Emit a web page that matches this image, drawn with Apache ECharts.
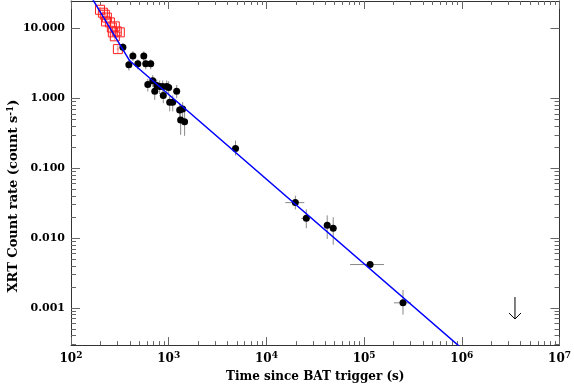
<!DOCTYPE html>
<html>
<head>
<meta charset="utf-8">
<script src="https://cdn.jsdelivr.net/npm/echarts@6.0.0/dist/echarts.min.js"></script>
<style>
html, body { margin: 0; padding: 0; background: #fff; }
#chart { width: 574px; height: 388px; }
</style>
</head>
<body>
<div id="chart"></div>
<script>
// WT mode points (red squares)
const wtTime   = [198, 212, 222, 228, 233, 250, 262, 268, 281, 281, 294, 302, 316];
const wtTimeLo = [191, 205, 215, 221, 226, 242, 254, 260, 272, 272, 285, 293, 306];
const wtTimeHi = [205, 219, 229, 235, 240, 258, 270, 276, 290, 290, 303, 311, 326];
const wtRate   = [18.5, 16.8, 15.7, 12.6, 14.3, 12.2, 10.3, 8.79, 10.7, 7.71, 9.08, 5.06, 8.79];
const wtRateLo = [16.6, 15.1, 14.1, 11.3, 12.9, 10.9, 9.2, 7.8, 9.6, 6.8, 8.1, 4.4, 7.9];
const wtRateHi = [20.4, 18.5, 17.3, 13.9, 15.7, 13.5, 11.4, 9.8, 11.8, 8.6, 10.1, 5.7, 9.7];

// PC mode points (black circles)
const pcTime   = [340, 391, 430, 483, 556, 582, 611, 655, 687, 720, 755, 809, 868, 880, 955, 1000, 1024, 1099, 1207, 1295, 1325, 1389, 1455, 4830, 19770, 25600, 41900, 48300, 115100, 250000];
const pcTimeLo = [326, 376, 414, 466, 537, 562, 591, 634, 665, 698, 732, 785, 843, 855, 928, 972, 996, 1070, 1176, 1262, 1292, 1355, 1420, 4500, 15600, 22750, 40000, 46500, 71900, 202000];
const pcTimeHi = [354, 406, 446, 500, 575, 602, 631, 676, 709, 742, 778, 833, 893, 905, 982, 1028, 1052, 1128, 1238, 1328, 1358, 1423, 1490, 5200, 24400, 28100, 43900, 50200, 160000, 302000];
const pcRate   = [5.40, 3.01, 4.04, 3.11, 4.04, 3.11, 1.57, 3.11, 1.79, 1.26, 1.52, 1.48, 1.48, 1.10, 1.48, 1.43, 0.88, 0.88, 1.26, 0.678, 0.49, 0.70, 0.46, 0.191, 0.0321, 0.0191, 0.0152, 0.0138, 0.00417, 0.00118];
const pcRateLo = [4.6, 2.5, 3.4, 2.6, 3.4, 2.6, 1.25, 2.6, 1.45, 0.95, 1.2, 1.15, 1.15, 0.85, 1.15, 1.1, 0.65, 0.65, 1.0, 0.5, 0.3, 0.52, 0.29, 0.152, 0.0256, 0.0138, 0.0097, 0.0080, 0.0038, 0.0008];
const pcRateHi = [6.2, 3.5, 4.7, 3.6, 4.7, 3.6, 1.9, 3.6, 2.15, 1.55, 1.85, 1.8, 1.8, 1.35, 1.8, 1.75, 1.1, 1.1, 1.55, 0.86, 0.68, 0.88, 0.64, 0.248, 0.0403, 0.0256, 0.0211, 0.0198, 0.0046, 0.0018];

// upper limit (arrow)
const ulTime = [3.5e6];
const ulRate = [1.43e-3];

// broken power-law fit
const fitTime = [139, 399, 1.46e6];
const fitRate = [39.7, 3.44, 1.66e-4];

// ticks
const xMajor = [1e2, 1e3, 1e4, 1e5, 1e6, 1e7];
const yMajor = [0.001, 0.01, 0.1, 1, 10];
const mantissas = [2, 3, 4, 5, 6, 7, 8, 9];
const xDecades = [1e2, 1e3, 1e4, 1e5, 1e6];
const yDecades = [1e-4, 1e-3, 1e-2, 1e-1];

const X_MIN = 100, X_MAX = 1e7;
const Y_MIN = 2.93e-4, Y_MAX = 24.7;

const xMinor = [];
xDecades.forEach(d => mantissas.forEach(m => xMinor.push(m * d)));
const yMinor = [];
yDecades.forEach(d => mantissas.forEach(m => { if (m * d >= Y_MIN) yMinor.push(m * d); }));

const FONT = 'DejaVu Serif';
const frameColor = '#333';

function xAxisDef(position, ticks, len, withLabels) {
    return {
        type: 'log', logBase: 10, min: X_MIN, max: X_MAX, position: position,
        axisLine: { show: ticks === xMajor, onZero: false, lineStyle: { color: frameColor, width: 1 } },
        axisTick: { show: true, inside: true, length: len, customValues: ticks, lineStyle: { color: '#666', width: 1 } },
        axisLabel: withLabels ? {
            show: true, customValues: xMajor, margin: 6,
            formatter: v => '{b|10}{s|' + Math.round(Math.log10(v)) + '}',
            rich: {
                b: { fontFamily: FONT, fontWeight: 'bold', fontSize: 12, color: '#000', lineHeight: 14, verticalAlign: 'bottom' },
                s: { fontFamily: FONT, fontWeight: 'bold', fontSize: 9, color: '#000', lineHeight: 14, verticalAlign: 'top', padding: [0, 0, 6, 0] }
            }
        } : { show: false },
        splitLine: { show: false }
    };
}

function yAxisDef(position, ticks, len, withLabels) {
    return {
        type: 'log', logBase: 10, min: Y_MIN, max: Y_MAX, position: position,
        axisLine: { show: ticks === yMajor, onZero: false, lineStyle: { color: frameColor, width: 1 } },
        axisTick: { show: true, inside: true, length: len, customValues: ticks, lineStyle: { color: '#666', width: 1 } },
        axisLabel: withLabels ? {
            show: true, customValues: yMajor, margin: 6,
            fontFamily: FONT, fontWeight: 'bold', fontSize: 11, color: '#000',
            formatter: v => v.toFixed(3)
        } : { show: false },
        splitLine: { show: false }
    };
}

function errorBars(color) {
    return function (params, api) {
        const t = api.value(0), r = api.value(1);
        const p = api.coord([t, r]);
        const xl = api.coord([api.value(2), r]);
        const xh = api.coord([api.value(3), r]);
        const yl = api.coord([t, api.value(4)]);
        const yh = api.coord([t, api.value(5)]);
        return {
            type: 'group',
            children: [
                { type: 'line', shape: { x1: xl[0], y1: p[1], x2: xh[0], y2: p[1] }, style: { stroke: color, lineWidth: 1 } },
                { type: 'line', shape: { x1: p[0], y1: yl[1], x2: p[0], y2: yh[1] }, style: { stroke: color, lineWidth: 1 } }
            ]
        };
    };
}

const wtErr = wtTime.map((t, i) => [t, wtRate[i], wtTimeLo[i], wtTimeHi[i], wtRateLo[i], wtRateHi[i]]);
const pcErr = pcTime.map((t, i) => [t, pcRate[i], pcTimeLo[i], pcTimeHi[i], pcRateLo[i], pcRateHi[i]]);

const chart = echarts.init(document.getElementById('chart'));

chart.setOption({
    animation: false,
    backgroundColor: '#fff',
    grid: { left: 71, right: 12, top: 1, bottom: 36 },
    xAxis: [
        Object.assign(xAxisDef('bottom', xMajor, 8, true), {
            name: 'Time since BAT trigger (s)', nameLocation: 'middle', nameGap: 23,
            nameTextStyle: { fontFamily: FONT, fontWeight: 'bold', fontSize: 12, color: '#000' }
        }),
        xAxisDef('bottom', xMinor, 4, false),
        xAxisDef('top', xMajor, 8, false),
        xAxisDef('top', xMinor, 4, false)
    ],
    yAxis: [
        yAxisDef('left', yMajor, 9, true),
        yAxisDef('left', yMinor, 5, false),
        yAxisDef('right', yMajor, 9, false),
        yAxisDef('right', yMinor, 5, false)
    ],
    graphic: [{
        type: 'text', x: 14, y: 196, rotation: Math.PI / 2,
        style: {
            text: 'XRT Count rate (count s{s|-1})',
            fontFamily: FONT, fontWeight: 'bold', fontSize: 13, fill: '#000',
            align: 'center', verticalAlign: 'middle',
            rich: {
                s: { fontFamily: FONT, fontWeight: 'bold', fontSize: 9, fill: '#000', verticalAlign: 'top', padding: [0, 0, 6, 0] }
            }
        }
    }],
    series: [
        {
            type: 'custom', name: 'wtErr', xAxisIndex: 0, yAxisIndex: 0,
            renderItem: errorBars('rgba(255,90,90,0.8)'),
            encode: { x: [0, 2, 3], y: [1, 4, 5] },
            data: wtErr, z: 2, silent: true
        },
        {
            type: 'scatter', name: 'WT', xAxisIndex: 0, yAxisIndex: 0,
            symbol: 'rect', symbolSize: 9,
            itemStyle: { color: 'rgba(0,0,0,0)', borderColor: '#ff2020', borderWidth: 1, opacity: 1 },
            data: wtTime.map((t, i) => [t, wtRate[i]]), z: 3
        },
        {
            type: 'custom', name: 'pcErr', xAxisIndex: 0, yAxisIndex: 0,
            renderItem: errorBars('#888'),
            encode: { x: [0, 2, 3], y: [1, 4, 5] },
            data: pcErr, z: 2, silent: true
        },
        {
            type: 'scatter', name: 'PC', xAxisIndex: 0, yAxisIndex: 0,
            symbol: 'circle', symbolSize: 7,
            itemStyle: { color: '#000', opacity: 1 },
            data: pcTime.map((t, i) => [t, pcRate[i]]), z: 4
        },
        {
            type: 'custom', name: 'upper limit', xAxisIndex: 0, yAxisIndex: 0,
            renderItem: function (params, api) {
                const p = api.coord([api.value(0), api.value(1)]);
                const tip = p[1] + 22;
                return {
                    type: 'group',
                    children: [
                        { type: 'line', shape: { x1: p[0], y1: p[1], x2: p[0], y2: tip }, style: { stroke: '#000', lineWidth: 1 } },
                        { type: 'polyline', shape: { points: [[p[0] - 6, tip - 6], [p[0], tip], [p[0] + 6, tip - 6]] }, style: { stroke: '#000', lineWidth: 1, fill: null } }
                    ]
                };
            },
            data: ulTime.map((t, i) => [t, ulRate[i]]), z: 4, silent: true
        },
        {
            type: 'line', name: 'fit', xAxisIndex: 0, yAxisIndex: 0,
            data: fitTime.map((t, i) => [t, fitRate[i]]),
            showSymbol: false, symbol: 'none', clip: true,
            lineStyle: { color: '#0000ff', width: 1.5 }, z: 6
        }
    ]
});
</script>
</body>
</html>
